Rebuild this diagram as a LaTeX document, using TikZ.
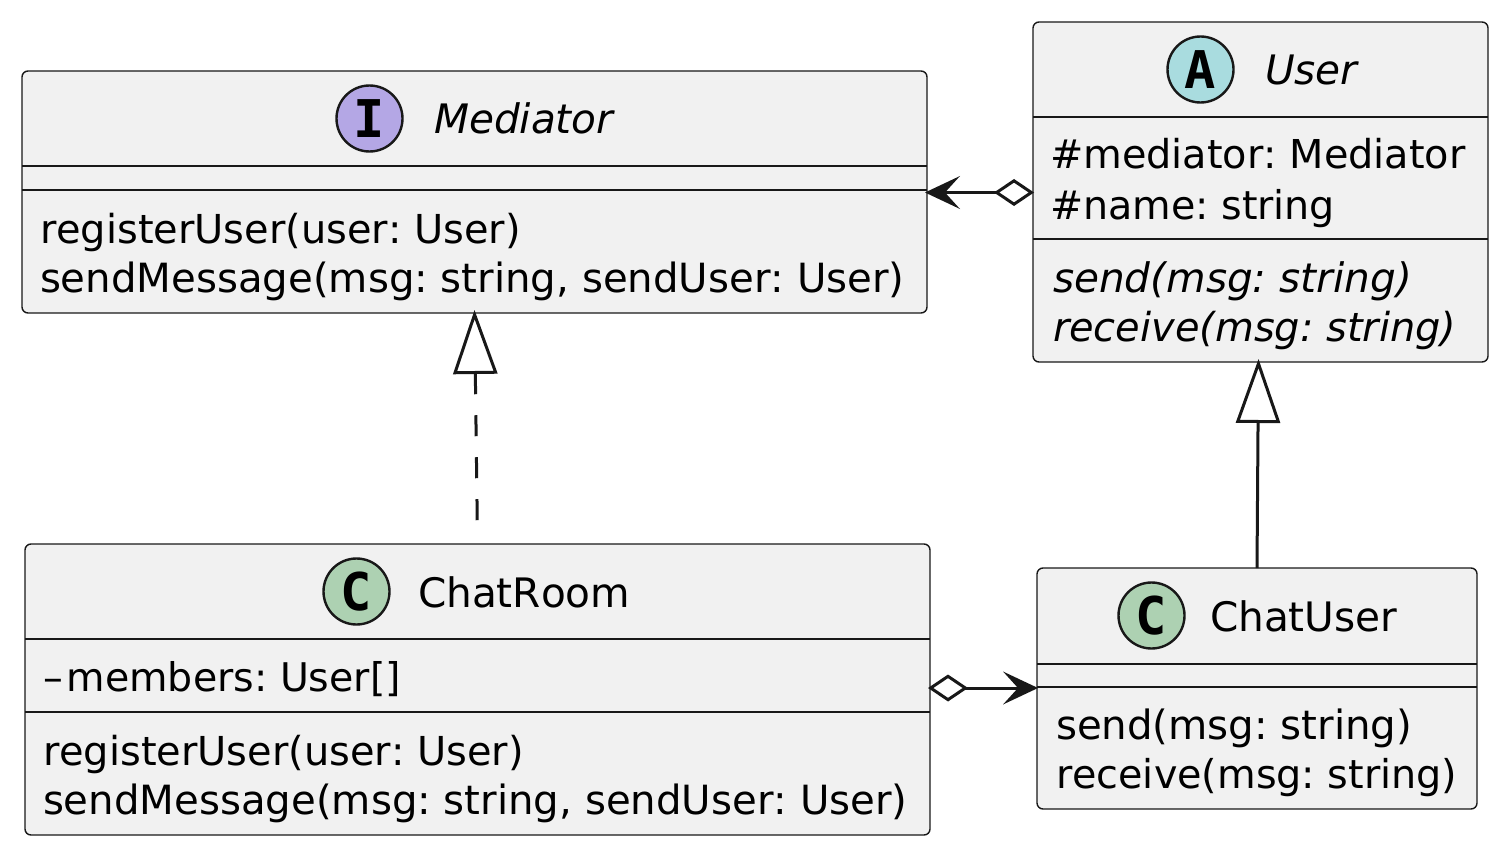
\documentclass[tikz,border=0pt]{standalone}
\usepackage{fontspec}
\setmainfont[Kerning=Off]{DejaVu Sans}
\newfontfamily\monob{DejaVu Sans Mono Bold}
\usetikzlibrary{arrows.meta,calc}
\definecolor{boxfill}{HTML}{F1F1F1}
\definecolor{inkc}{HTML}{181818}
\definecolor{ifacec}{HTML}{B4A7E5}
\definecolor{abstc}{HTML}{A9DCDF}
\definecolor{classc}{HTML}{ADD1B2}
\tikzset{
  x=1pt,y=-1pt,
  umlbox/.style={draw=inkc,fill=boxfill,line width=1.4pt,rounded corners=6pt,anchor=north west,inner sep=0pt,outer sep=0pt},
  sepline/.style={draw=inkc,line width=1.3pt},
  txt/.style={anchor=base west,inner sep=0pt,outer sep=0pt,text=black,font=\frenchspacing\fontsize{#1}{46}\selectfont},
  txt/.default=40,
  ttl/.style={anchor=base west,inner sep=0pt,outer sep=0pt,text=black,font=\frenchspacing\fontsize{40.6}{46}\selectfont},
  badge/.style={circle,draw=inkc,line width=2.4pt,minimum size=66pt,inner sep=0pt},
  glyph/.style={font=\monob\fontsize{52}{52}\selectfont,inner sep=0pt,text=black},
  conn/.style={draw=inkc,line width=3pt},
  headtip/.tip={Stealth[length=35pt,width=33pt,inset=15pt,fill=inkc,line width=0pt]},
  diatip/.tip={Diamond[open,length=40pt,width=27pt,line width=3pt]},
  tritip/.tip={Triangle[open,length=64pt,width=44pt,line width=3pt]},
}
\begin{document}
\begin{tikzpicture}
\useasboundingbox (0,0) rectangle (1506,853);
% boxes
\node[umlbox,minimum width=905pt,minimum height=242pt] (med) at (22,71) {};
\node[umlbox,minimum width=455pt,minimum height=340pt] (usr) at (1033,22) {};
\node[umlbox,minimum width=905pt,minimum height=291pt] (room) at (25,544) {};
\node[umlbox,minimum width=440pt,minimum height=241pt] (cuser) at (1037,568) {};
% separators
\draw[sepline] (22,166) -- (927,166);
\draw[sepline] (22,190) -- (927,190);
\draw[sepline] (1033,117) -- (1488,117);
\draw[sepline] (1033,239) -- (1488,239);
\draw[sepline] (25,639) -- (930,639);
\draw[sepline] (25,712) -- (930,712);
\draw[sepline] (1037,664) -- (1477,664);
\draw[sepline] (1037,687) -- (1477,687);
% badges
\node[badge,fill=ifacec] (bm) at (369.5,118.5) {};
\node[glyph] (gm) at (369.5,119) {I};
\node[badge,fill=abstc] (bu) at (1200.5,69.5) {};
\node[glyph] (gu) at (1200.5,70) {A};
\node[badge,fill=classc] (br) at (356.5,591.5) {};
\node[glyph] (gr) at (356.5,592) {C};
\node[badge,fill=classc] (bc) at (1151.5,615.5) {};
\node[glyph] (gc) at (1151.5,616) {C};
% text
\node[ttl] (t1) at (434,134) {\itshape Mediator};
\node[txt=39.9] (t2) at (40,243) {registerUser(user: User)};
\node[txt=40.25] (t3) at (40,292) {sendMessage(msg: string, sendUser: User)};
\node[ttl] (t4) at (1265,85) {\itshape User};
\node[txt=39.8] (t5) at (1050,169) {\#mediator: Mediator};
\node[txt=39.6] (t6) at (1050,219) {\#name: string};
\node[txt=40.6] (t7) at (1053,292) {\itshape send(msg: string)};
\node[txt=39.9] (t8) at (1053,341) {\itshape receive(msg: string)};
\node[ttl] (t9) at (418,607) {ChatRoom};
\node[txt=39.5] (t10) at (43,691) {–\kern4pt members: User[]};
\node[txt=39.9] (t11) at (43,765) {registerUser(user: User)};
\node[txt=40.25] (t12) at (43,814) {sendMessage(msg: string, sendUser: User)};
\node[ttl] (t13) at (1210,631) {ChatUser};
\node[txt=40.3] (t14) at (1056,739) {send(msg: string)};
\node[txt=39.7] (t15) at (1056,788) {receive(msg: string)};
% connectors
\coordinate (a1) at ($(med.north east)+(-2,121.5)$);
\coordinate (a2) at ($(usr.north west)+(1,170.5)$);
\draw[conn,{headtip}-{diatip}] (a1) -- (a2);
\coordinate (b1) at ($(room.north east)+(-2,144)$);
\coordinate (b2) at ($(cuser.north west)+(1,120)$);
\draw[conn,{diatip}-{headtip}] (b1) -- (b2);
\coordinate (c1) at ($(med.south)+(0,-3)$);
\coordinate (c2) at ($(room.north)+(0,-4)$);
\draw[conn,{tritip}-,dash pattern=on 21pt off 21pt] (c1) -- (c2);
\coordinate (d1) at ($(usr.south)+(-2,-3)$);
\draw[conn,{tritip}-] (d1) -- (cuser.north);
\end{tikzpicture}
\end{document}
